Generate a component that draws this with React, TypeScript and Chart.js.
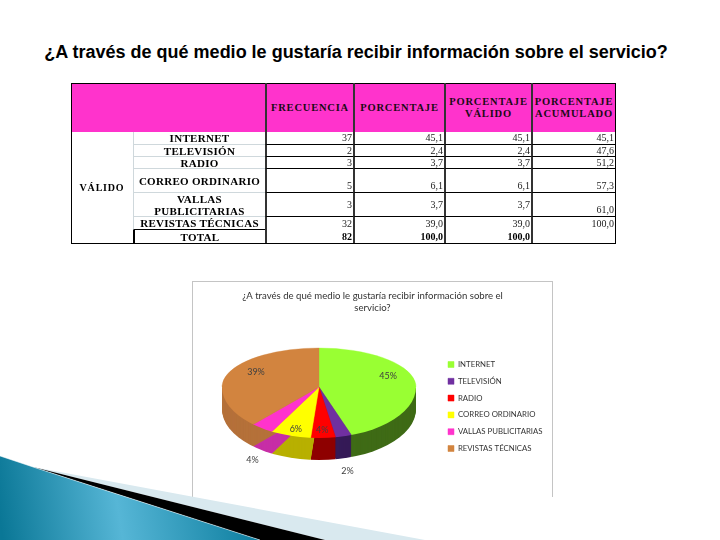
import React, { useEffect, useRef } from "react";
import { Chart, registerables } from "chart.js";

Chart.register(...registerables);

const pageTitle = "¿A través de qué medio le gustaría recibir información sobre el servicio?";
const chartTitle = ["¿A través de qué medio le gustaría recibir información sobre el", "servicio?"];
const categories = ["INTERNET", "TELEVISIÓN", "RADIO", "CORREO ORDINARIO", "VALLAS PUBLICITARIAS", "REVISTAS TÉCNICAS"];
const frequency = [37, 2, 3, 5, 3, 32];
const percent = ["45,1", "2,4", "3,7", "6,1", "3,7", "39,0"];
const validPercent = ["45,1", "2,4", "3,7", "6,1", "3,7", "39,0"];
const cumulative = ["45,1", "47,6", "51,2", "57,3", "61,0", "100,0"];
const headers = ["FRECUENCIA", "PORCENTAJE", "PORCENTAJE VÁLIDO", "PORCENTAJE ACUMULADO"];
const totalRow = ["82", "100,0", "100,0", ""];

const sliceColors = ["#99ff33", "#7030a0", "#ff0000", "#ffff00", "#ff33cc", "#d2843f"];
const sideColors = ["#3f6b16", "#351a57", "#8e0000", "#b8b000", "#c72ea6", "#b5713a"];

// table layout
const colX = [71, 133, 265, 353, 444, 531, 615];
const rowY = [83, 132, 145, 157, 169, 193, 217, 230, 243];

// projection of the pie on the canvas
const FRAME = { left: 193, top: 282, width: 359, height: 215 };
const PIE = { cx: 126, apexY: 105, rx: 97, topRy: 39, bottomRy: 51, depth: 22, frontStretchX: 1.12, frontOverscan: 1.15 };
const LEGEND = { left: 246, shiftY: 17 };
const LABEL_RADIAL = [0.72, 1.29, 0.85, 0.9, 1.26, 0.69];
const LABEL_LIFT = [-6.6, 20, 0, -2, 19, -6];

function drawPart(ctx: CanvasRenderingContext2D, arc: any, d: number, lower: boolean) {
  ctx.save();
  ctx.beginPath();
  if (lower) {
    ctx.ellipse(PIE.cx, PIE.apexY + d, PIE.rx, PIE.bottomRy, 0, 0, Math.PI);
  } else {
    ctx.rect(0, 0, FRAME.width, PIE.apexY + d);
  }
  ctx.clip();
  ctx.translate(PIE.cx, PIE.apexY + d);
  if (lower) {
    // the near half of the disc is seen in perspective: slices fan out wider
    ctx.scale(PIE.frontStretchX * PIE.frontOverscan, (PIE.bottomRy / PIE.rx) * PIE.frontOverscan);
  } else {
    ctx.scale(1, PIE.topRy / PIE.rx);
  }
  ctx.translate(-arc.x, -arc.y);
  arc.draw(ctx);
  ctx.restore();
}

const pieProjection = {
  id: "pieProjection",
  afterLayout(chart: any) {
    const lg = chart.legend;
    const w = lg.right - lg.left;
    lg.left = LEGEND.left;
    lg.right = LEGEND.left + w;
    lg.top += LEGEND.shiftY;
    lg.bottom += LEGEND.shiftY;
  },
  beforeDatasetDraw(chart: any) {
    const ctx = chart.ctx as CanvasRenderingContext2D;
    const arcs = chart.getDatasetMeta(0).data;
    arcs.forEach((arc: any, i: number) => {
      const base = arc.options;
      arc.options = { ...base, backgroundColor: sideColors[i], borderColor: sideColors[i], borderWidth: 0 };
      for (let d = PIE.depth; d >= 1; d--) drawPart(ctx, arc, d, true);
      arc.options = base;
    });
    arcs.forEach((arc: any) => {
      drawPart(ctx, arc, 0, false);
      drawPart(ctx, arc, 0, true);
    });
    return false;
  },
  afterDraw(chart: any) {
    const ctx = chart.ctx as CanvasRenderingContext2D;
    const arcs = chart.getDatasetMeta(0).data;
    const total = frequency.reduce((a, b) => a + b, 0);
    ctx.save();
    ctx.font = "9px Lato";
    ctx.fillStyle = "#404040";
    ctx.textAlign = "center";
    ctx.textBaseline = "middle";
    arcs.forEach((arc: any, i: number) => {
      const mid = (arc.startAngle + arc.endAngle) / 2;
      const s = Math.sin(mid);
      const x = PIE.cx + Math.cos(mid) * PIE.rx * LABEL_RADIAL[i];
      const y = PIE.apexY + s * (s > 0 ? PIE.bottomRy : PIE.topRy) * LABEL_RADIAL[i] + LABEL_LIFT[i];
      ctx.fillText(Math.round((frequency[i] / total) * 100) + "%", x, y);
    });
    ctx.restore();
  },
};

const serif = "'Liberation Serif', serif";

function Cell(props: {
  x0: number; x1: number; y0: number; y1: number; children?: React.ReactNode;
  align?: "left" | "center" | "right"; valign?: "flex-start" | "center" | "flex-end";
  size?: number; bold?: boolean; spacing?: number; extra?: React.CSSProperties;
}) {
  const { x0, x1, y0, y1, align = "center", valign = "center", size = 10, bold = true, spacing = 0, extra } = props;
  return (
    <div
      style={{
        position: "absolute", left: x0, top: y0, width: x1 - x0, height: y1 - y0,
        boxSizing: "border-box", display: "flex", alignItems: valign,
        justifyContent: align === "right" ? "flex-end" : align === "left" ? "flex-start" : "center",
        textAlign: align, fontFamily: serif, fontSize: size, lineHeight: "12px",
        fontWeight: bold ? 700 : 400, letterSpacing: spacing, color: "#000", padding: "0 1px",
        whiteSpace: "pre-line", ...extra,
      }}
    >
      {props.children}
    </div>
  );
}

function DataTable() {
  const hLine = "1px solid #000";
  const paleLine = "1px solid #cfd8dc";
  const labelRows = ["INTERNET", "TELEVISIÓN", "RADIO", "CORREO ORDINARIO", "VALLAS\nPUBLICITARIAS", "REVISTAS TÉCNICAS"];
  const dataCols = [frequency.map(String), percent, validPercent, cumulative];
  return (
    <div style={{ position: "absolute", left: 0, top: 0, width: 720, height: 540, filter: "blur(0.45px)" }}>
      <div style={{ position: "absolute", left: colX[0], top: rowY[0], width: colX[6] - colX[0], height: rowY[1] - rowY[0], background: "#ff33cc" }} />
      <div style={{ position: "absolute", left: colX[0], top: rowY[0], width: colX[6] - colX[0] + 1, height: rowY[8] - rowY[0] + 1, boxSizing: "border-box", border: "1px solid #000" }} />
      {headers.map((h, i) => (
        <Cell key={h} x0={colX[i + 2]} x1={colX[i + 3]} y0={rowY[0]} y1={rowY[1]} size={10.5} spacing={0.8}
          extra={{ borderLeft: "2px solid #333", lineHeight: "12px", color: "#1a0a14", overflow: "hidden" }}>
          {h.replace(" ", "\n")}
        </Cell>
      ))}
      <Cell x0={colX[0]} x1={colX[1]} y0={rowY[1]} y1={rowY[8]} size={10} spacing={0.8}>VÁLIDO</Cell>
      {labelRows.map((t, r) => (
        <Cell key={t} x0={colX[1]} x1={colX[2]} y0={rowY[r + 1]} y1={rowY[r + 2]} size={11} spacing={0.3}
          extra={{ borderBottom: r === 5 ? hLine : paleLine, borderLeft: paleLine }}>
          {t}
        </Cell>
      ))}
      <Cell x0={colX[1]} x1={colX[2]} y0={rowY[7]} y1={rowY[8]} size={11} spacing={0.3}
        extra={{ borderLeft: "2px solid #000" }}>TOTAL</Cell>
      {dataCols.map((col, c) =>
        col.map((v, r) => (
          <Cell key={c + "-" + r} x0={colX[c + 2]} x1={colX[c + 3]} y0={rowY[r + 1]} y1={rowY[r + 2]} size={10} bold={false} align="right"
            valign={r === 3 ? "flex-end" : r === 4 ? (c === 3 ? "flex-end" : "center") : "center"}
            extra={{ borderLeft: "2px solid #333", borderBottom: r === 5 ? "none" : hLine, color: "#222" }}>
            {v}
          </Cell>
        ))
      )}
      {totalRow.map((v, c) => (
        <Cell key={"t" + c} x0={colX[c + 2]} x1={colX[c + 3]} y0={rowY[7]} y1={rowY[8]} size={10} align="right"
          extra={{ borderLeft: "2px solid #333" }}>
          {v}
        </Cell>
      ))}
    </div>
  );
}

export default function App() {
  const ref = useRef<HTMLCanvasElement>(null);
  useEffect(() => {
    document.body.style.margin = "0";
    const chart = new Chart(ref.current!, {
      type: "pie",
      plugins: [pieProjection],
      data: {
        labels: categories,
        datasets: [{
          data: frequency,
          backgroundColor: sliceColors,
          borderColor: sliceColors,
          borderWidth: 0.5,
          radius: PIE.rx,
        }],
      },
      options: {
        animation: false,
        responsive: false,
        devicePixelRatio: 1,
        plugins: {
          tooltip: { enabled: false },
          title: {
            display: true,
            text: chartTitle,
            color: "#333",
            font: { family: "Lato", size: 9.6, weight: "normal", lineHeight: 1.25 },
            padding: { top: 8, bottom: 0 },
          },
          legend: {
            position: "right",
            align: "center",
            labels: {
              boxWidth: 6,
              boxHeight: 6,
              padding: 9,
              color: "#333",
              font: { family: "Lato", size: 7.8 },
            },
          },
        },
      },
    } as any);
    return () => chart.destroy();
  }, []);
  return (
    <div style={{ position: "relative", width: 720, height: 540, overflow: "hidden", background: "#fff" }}>
      <div style={{ position: "absolute", left: 0, width: 712, top: 42, textAlign: "center", fontFamily: "'Liberation Sans', sans-serif", fontWeight: 700, fontSize: 18, lineHeight: "20px", color: "#000", whiteSpace: "nowrap" }}>
        {pageTitle}
      </div>
      <DataTable />
      <div style={{ position: "absolute", left: FRAME.left - 1, top: FRAME.top - 1, width: FRAME.width + 2, height: FRAME.height + 1, boxSizing: "border-box", borderTop: "1px solid #c4c4c4", borderLeft: "1px solid #c4c4c4", borderRight: "1px solid #c4c4c4" }} />
      <canvas ref={ref} width={FRAME.width} height={FRAME.height} style={{ position: "absolute", left: FRAME.left, top: FRAME.top, width: FRAME.width, height: FRAME.height, filter: "blur(0.35px)" }} />
      <svg width={720} height={540} style={{ position: "absolute", left: 0, top: 0 }}>
        <defs>
          <linearGradient id="teal" gradientUnits="userSpaceOnUse" x1="0" y1="520" x2="260" y2="480">
            <stop offset="0" stopColor="#0a7796" />
            <stop offset="0.45" stopColor="#56b6d6" />
            <stop offset="1" stopColor="#087a9b" />
          </linearGradient>
        </defs>
        <polygon points="33,467 425,540 325,540" fill="#d9e9ef" />
        <polygon points="33,467 325,540 260,540" fill="#000" />
        <polygon points="0,456 33,467 260,540 0,540" fill="url(#teal)" />
        <polyline points="0,456 33,467 260,540" fill="none" stroke="#fff" strokeWidth={0.7} strokeOpacity={0.7} />
      </svg>
    </div>
  );
}
